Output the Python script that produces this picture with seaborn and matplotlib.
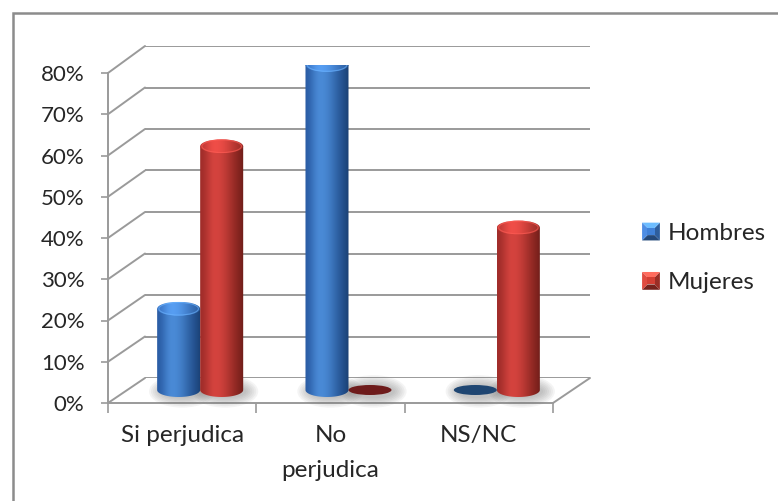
import numpy as np
import pandas as pd
import matplotlib
matplotlib.use("Agg")
import matplotlib.pyplot as plt
import matplotlib.colors as mcolors
import seaborn as sns
from matplotlib.patches import Ellipse, Rectangle, PathPatch, Polygon
from matplotlib.path import Path
from matplotlib.lines import Line2D
from matplotlib.legend_handler import HandlerBase

# ---- data ----
categories = ["Si perjudica", "No\nperjudica", "NS/NC"]
series = ["Hombres", "Mujeres"]
hombres = [20, 80, 0]
mujeres = [60, 0, 40]
y_ticks = [0, 10, 20, 30, 40, 50, 60, 70, 80]
y_tick_labels = [f"{t}%" for t in y_ticks]

df = pd.DataFrame({
    "categoria": categories * 2,
    "serie": [series[0]] * len(categories) + [series[1]] * len(categories),
    "valor": hombres + mujeres,
})

# cylinder shading: left edge, highlight, right edge, top, flat (zero value)
shades = {
    "Hombres": dict(base="#3A75C4", left="#2C5FA8", peak="#4A8AD6", right="#214E8C",
                    top="#5B97DD", flat="#1F4672"),
    "Mujeres": dict(base="#C0392F", left="#A32E2B", peak="#D4433E", right="#86241F",
                    top="#DC4E48", flat="#6E1B1B"),
}

W, H = 778, 501
sns.set_theme(style="white")
plt.rcParams["font.family"] = ["Lato", "DejaVu Sans"]
FS_Y = 16
FS = 17.5

fig = plt.figure(figsize=(W / 100, H / 100), dpi=100)
fig.patch.set_facecolor("white")


def box(left, top, right, bottom):
    return [left / W, 1 - bottom / H, (right - left) / W, (bottom - top) / H]


xlim = (-0.5, len(categories) - 0.5)
ylim = (0, y_ticks[-1])
grid_c = "#9a9a9a"

# mid-depth plane for the cylinders; extra room below zero for the rounded bases
px_per_unit = (390 - 65) / (ylim[1] - ylim[0])
below = 6
back = fig.add_axes(box(145, 46, 590, 378), zorder=0)
front = fig.add_axes(box(108, 73, 553, 403), zorder=1)
mid = fig.add_axes(box(126, 65, 571, 390 + below * px_per_unit), zorder=2)

# ---- back wall gridlines ----
back.hlines(y_ticks, xlim[0], xlim[1], color=grid_c, lw=1.4)
back.set_xlim(*xlim)
back.set_ylim(*ylim)
back.axis("off")

# ---- front axis (value axis and floor edge) ----
front.set_xlim(*xlim)
front.set_ylim(*ylim)
front.patch.set_visible(False)
for s in ("top", "right"):
    front.spines[s].set_visible(False)
for s in ("left", "bottom"):
    front.spines[s].set_color(grid_c)
    front.spines[s].set_linewidth(1.4)
front.set_yticks(y_ticks)
front.set_yticklabels(y_tick_labels, fontsize=FS_Y)
front.tick_params(axis="y", which="major", length=5, width=1.2, color=grid_c,
                  pad=12, left=True)
front.set_xticks(range(len(categories)))
front.set_xticklabels(categories, fontsize=FS, linespacing=1.8, va="top")
front.tick_params(axis="x", which="major", length=0, pad=16, bottom=True)
front.set_xticks(np.arange(xlim[0], xlim[1] + 0.01, 1.0), minor=True)
front.tick_params(axis="x", which="minor", length=7, width=1.2, color=grid_c,
                  direction="out", bottom=True)
front.grid(False)

# ---- side wall / floor diagonals linking front axis to back wall ----
to_fig = fig.transFigure.inverted()


def link(x_val, y_val):
    p0 = to_fig.transform(front.transData.transform((x_val, y_val)))
    p1 = to_fig.transform(back.transData.transform((x_val, y_val)))
    fig.add_artist(Line2D([p0[0], p1[0]], [p0[1], p1[1]], color=grid_c, lw=1.4,
                          transform=fig.transFigure, zorder=0.5))


for t in y_ticks:
    link(xlim[0], t)
link(xlim[1], 0)

# ---- cylinders ----
sns.barplot(data=df, x="categoria", y="valor", hue="serie", order=categories,
            hue_order=series, palette=[shades[s]["base"] for s in series],
            width=0.58, saturation=1, legend=False, ax=mid)
mid.set_xlim(*xlim)
mid.set_ylim(-below, ylim[1])
mid.patch.set_visible(False)
mid.axis("off")

eh = 14 / px_per_unit   # cap ellipse height in data units
fh = 10 / px_per_unit   # flat (zero value) disc height


def profile(sh, n=64):
    t = np.linspace(0, 1, n)
    left = np.array(mcolors.to_rgb(sh["left"]))
    peak = np.array(mcolors.to_rgb(sh["peak"]))
    right = np.array(mcolors.to_rgb(sh["right"]))
    out = np.empty((n, 3))
    for i, v in enumerate(t):
        if v < 0.35:
            a = 0.5 - 0.5 * np.cos(np.pi * v / 0.35)
            out[i] = left + (peak - left) * a
        else:
            a = 0.5 - 0.5 * np.cos(np.pi * (v - 0.35) / 0.65)
            out[i] = peak + (right - peak) * a
    # darker rims at both sides
    rim = 1 - 0.18 * (np.abs(t - 0.4) / 0.6) ** 6
    return (out * rim[:, None])[None, :, :]


bars = list(mid.patches)
n_cat = len(categories)
for idx, bar in enumerate(bars):
    sh = shades[series[idx // n_cat]]
    x, w, h = bar.get_x(), bar.get_width(), bar.get_height()
    cx = x + w / 2
    bar.set_visible(False)

    # soft shadow on the floor
    for k in range(7):
        mid.add_patch(Ellipse((cx + w * 0.08, -eh * 0.1), w * (1.0 + 0.09 * k),
                              eh * (1.0 + 0.22 * k), facecolor="#6f6f6f",
                              edgecolor="none", alpha=0.07, zorder=1))

    if h <= 0:
        mid.add_patch(Ellipse((cx, 0), w, fh, facecolor=sh["flat"],
                              edgecolor="none", zorder=2))
        continue

    ang = np.linspace(np.pi, 2 * np.pi, 40)
    verts = [(x, h), (x, 0)]
    verts += [(cx + w / 2 * np.cos(a), eh / 2 * np.sin(a)) for a in ang]
    verts += [(x + w, h), (x, h)]
    codes = [Path.MOVETO] + [Path.LINETO] * (len(verts) - 2) + [Path.CLOSEPOLY]
    body = PathPatch(Path(verts, codes), facecolor="none", edgecolor="none",
                     transform=mid.transData)
    mid.add_patch(body)
    img = mid.imshow(profile(sh), extent=[x, x + w, -eh / 2, h], aspect="auto",
                     interpolation="bilinear", zorder=2)
    img.set_clip_path(body)

    top = Ellipse((cx, h), w, eh, facecolor="none", edgecolor="none",
                  transform=mid.transData)
    mid.add_patch(top)
    tprof = profile(sh) * 0.8 + 0.2 * np.array(mcolors.to_rgb(sh["top"]))
    tprof = np.clip(tprof * 1.12, 0, 1)
    timg = mid.imshow(tprof, extent=[x, x + w, h - eh / 2, h + eh / 2],
                      aspect="auto", interpolation="bilinear", zorder=3)
    timg.set_clip_path(top)
    # light rim where the cap meets the side
    mid.add_patch(Ellipse((cx, h), w * 0.92, eh * 0.9, facecolor="none",
                          edgecolor=np.clip(np.array(mcolors.to_rgb(sh["top"])) * 1.2, 0, 1),
                          lw=0.8, alpha=0.6, zorder=3.5))

mid.set_xlim(*xlim)
mid.set_ylim(-below, ylim[1])


# ---- legend with bevelled swatches ----
class BevelHandler(HandlerBase):
    def create_artists(self, legend, orig_handle, xdescent, ydescent, width,
                       height, fontsize, trans):
        s = min(width, height)
        x0 = -xdescent + (width - s) / 2
        y0 = -ydescent + (height - s) / 2
        c = np.array(mcolors.to_rgb(orig_handle.get_facecolor()))
        i = s * 0.3
        o = [(x0, y0), (x0 + s, y0), (x0 + s, y0 + s), (x0, y0 + s)]
        n = [(x0 + i, y0 + i), (x0 + s - i, y0 + i), (x0 + s - i, y0 + s - i),
             (x0 + i, y0 + s - i)]
        faces = [
            ([o[0], o[1], n[1], n[0]], c * 0.62),
            ([o[1], o[2], n[2], n[1]], c * 0.8),
            ([o[2], o[3], n[3], n[2]], np.clip(c * 1.35 + 0.12, 0, 1)),
            ([o[3], o[0], n[0], n[3]], np.clip(c * 1.1 + 0.05, 0, 1)),
            (n, np.clip(c * 1.1, 0, 1)),
        ]
        arts = []
        for pts, col in faces:
            p = Polygon(pts, closed=True, facecolor=col, edgecolor="none",
                        transform=trans)
            arts.append(p)
        return arts


handles = [Rectangle((0, 0), 1, 1, facecolor=shades[s]["base"]) for s in series]
fig.legend(handles, series, handler_map={Rectangle: BevelHandler()},
           loc="center left", bbox_to_anchor=(620 / W, 1 - 258 / H),
           frameon=False, fontsize=FS, handlelength=0.75, handleheight=0.75,
           labelspacing=1.15, handletextpad=0.3)

# ---- outer frame ----
fig.add_artist(Rectangle((13 / W, -0.1), 1.2, 1 - 13 / H + 0.1,
                         transform=fig.transFigure, fill=False,
                         edgecolor="#8c8c8c", lw=1.8, zorder=10))

fig.savefig("out.png", dpi=100, facecolor="white")
